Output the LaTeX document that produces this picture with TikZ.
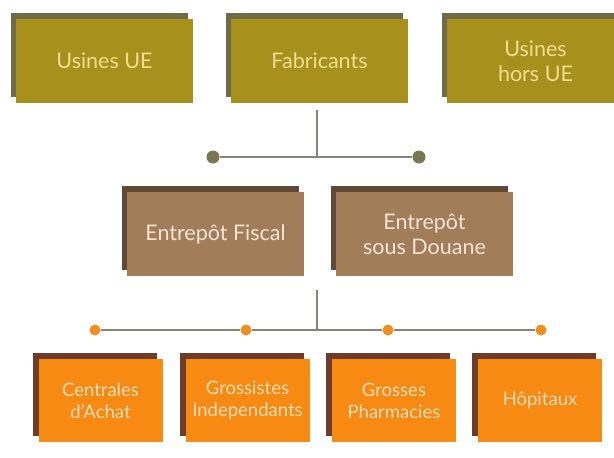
\documentclass[tikz,border=0pt]{standalone}
\usepackage{fontspec}
\setmainfont{Lato}
\usetikzlibrary{shadows}
\definecolor{olivefront}{HTML}{A8901C}
\definecolor{oliveshadow}{HTML}{6F6B48}
\definecolor{olivetext}{HTML}{F0DE8E}
\definecolor{tanfront}{HTML}{A17D59}
\definecolor{tanshadow}{HTML}{5E4A36}
\definecolor{tantext}{HTML}{F4E4D4}
\definecolor{orfront}{HTML}{F78A12}
\definecolor{orshadow}{HTML}{6E3C28}
\definecolor{ortext}{HTML}{FFDDBA}
\definecolor{linegray}{HTML}{85857C}
\definecolor{dotolive}{HTML}{7A7754}
\definecolor{dotorange}{HTML}{F08E1E}
\tikzset{
  box/.style={rectangle, inner sep=0pt, align=center, font=\fontsize{21.5}{25}\selectfont},
  topbox/.style={box, fill=olivefront, text=olivetext, minimum width=177pt, minimum height=84pt,
    drop shadow={shadow xshift=-5pt, shadow yshift=6pt, opacity=1, fill=oliveshadow}},
  midbox/.style={box, fill=tanfront, text=tantext, minimum width=177pt, minimum height=84pt,
    drop shadow={shadow xshift=-5pt, shadow yshift=6pt, opacity=1, fill=tanshadow}},
  botbox/.style={box, fill=orfront, text=ortext, minimum width=124pt, minimum height=83pt,
    font=\fontsize{18.5}{22}\selectfont,
    drop shadow={shadow xshift=-6pt, shadow yshift=6pt, opacity=1, fill=orshadow}},
  conn/.style={draw=linegray, line width=2pt},
  tdot/.style={circle, fill=dotolive, inner sep=0pt, minimum size=13pt},
  bdot/.style={circle, fill=dotorange, inner sep=0pt, minimum size=11pt},
}
\begin{document}
\begin{tikzpicture}[x=1pt, y=-1pt]
\useasboundingbox (0,0) rectangle (614,458);
\fill[white] (0,0) rectangle (614,458);
% top row
\node[topbox] (usue) at (104.5,61) {Usines UE};
\node[topbox] (fab) at (319.5,61) {Fabricants};
\node[topbox] (ushors) at (535.5,61) {Usines\\hors UE};
% middle row
\node[midbox] (fisc) at (215.5,234) {Entrepôt Fiscal};
\node[midbox] (douane) at (424.5,234) {Entrepôt\\sous Douane};
% bottom row
\node[botbox] (cent) at (100.5,400.5) {Centrales\\d'Achat};
\node[botbox] (gross) at (247.5,400.5) {Grossistes\\Independants};
\node[botbox] (pharm) at (394,400.5) {Grosses\\Pharmacies};
\node[botbox] (hop) at (540,400.5) {Hôpitaux};
% top connector
\coordinate (ts) at (317,110);
\coordinate (tj) at (317,157);
\node[tdot] (td1) at (213,157) {};
\node[tdot] (td2) at (419,157) {};
\draw[conn] (ts) -- (tj);
\draw[conn] (td1) -- (td2);
% bottom connector
\coordinate (bs) at (317,290);
\coordinate (bj) at (317,330);
\node[bdot] (bd1) at (95,330) {};
\node[bdot] (bd2) at (246,330) {};
\node[bdot] (bd3) at (388,330) {};
\node[bdot] (bd4) at (541,330) {};
\draw[conn] (bs) -- (bj);
\draw[conn] (bd1) -- (bd2) -- (bd3) -- (bd4);
\end{tikzpicture}
\end{document}
